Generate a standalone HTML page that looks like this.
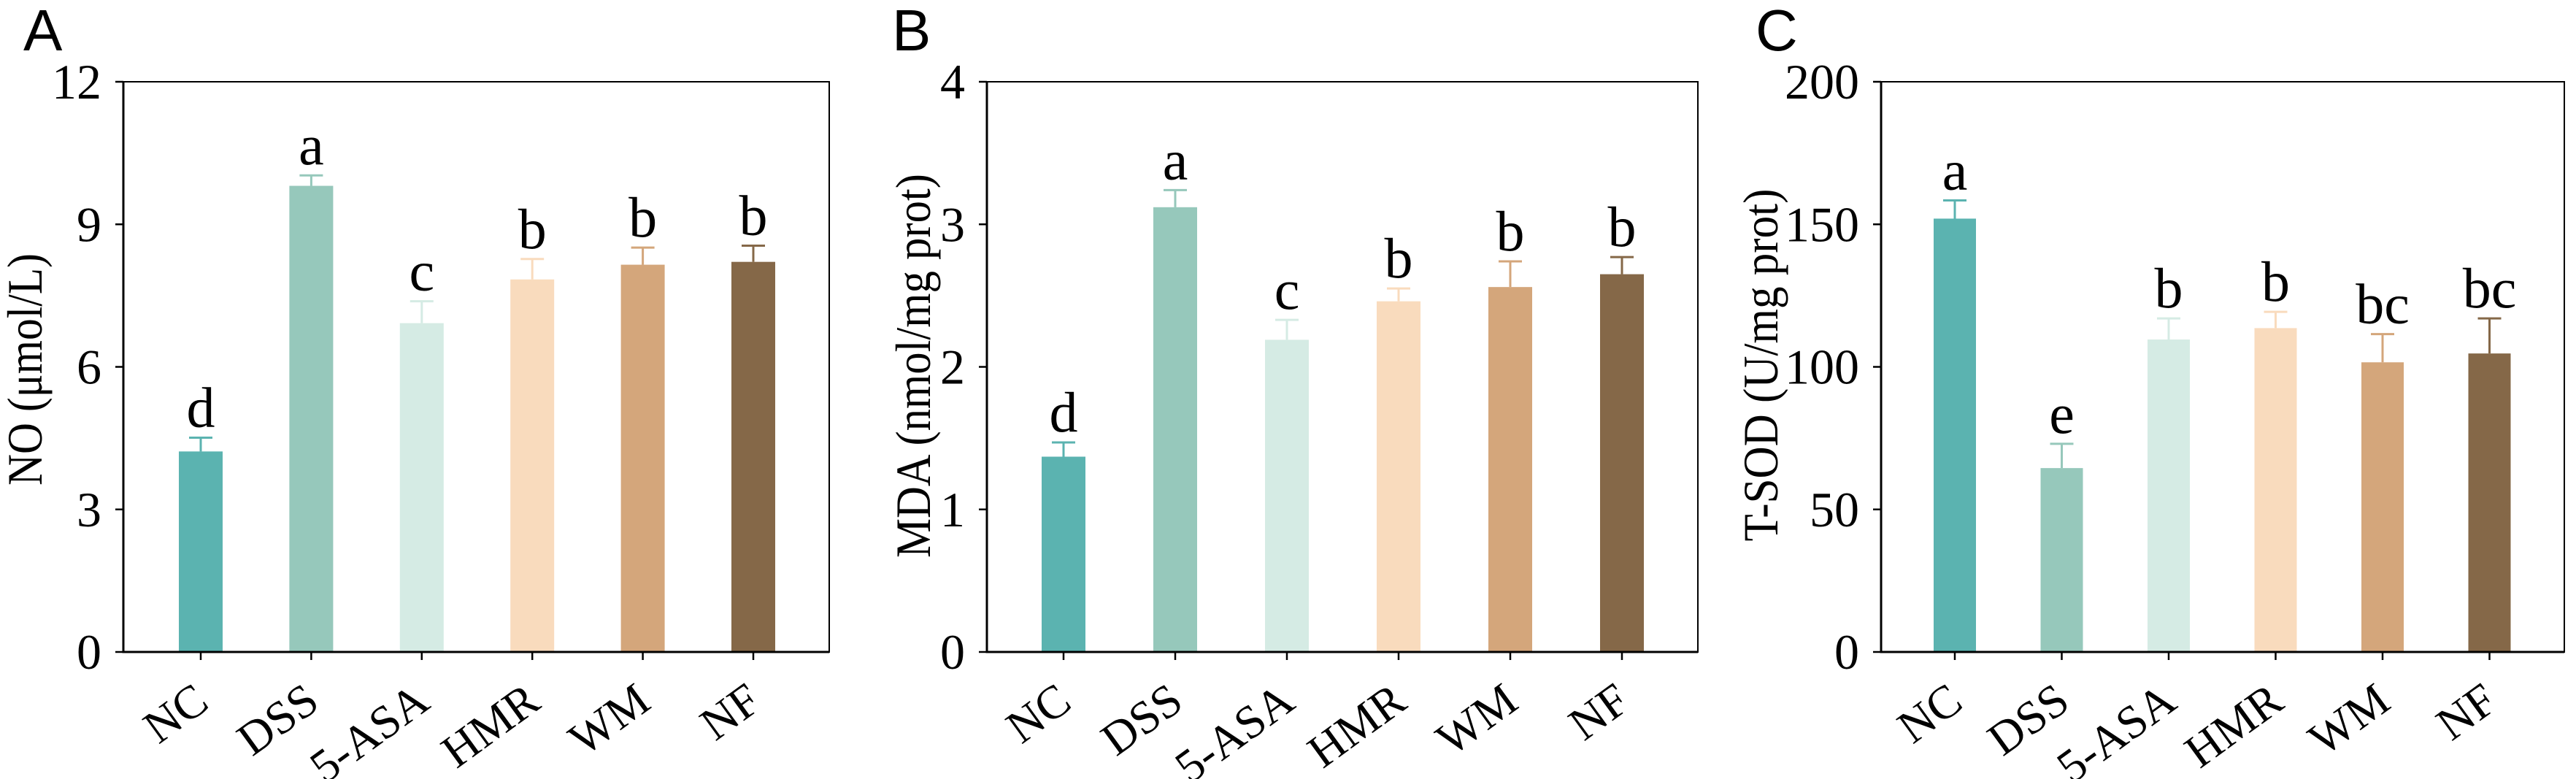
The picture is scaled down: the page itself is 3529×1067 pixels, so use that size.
<!DOCTYPE html>
<html><head><meta charset="utf-8">
<style>
html,body{margin:0;padding:0;background:#fff;}
svg{display:block;}
</style></head>
<body>
<svg id="fig" width="3529" height="1067" viewBox="0 0 3529 1067" xmlns="http://www.w3.org/2000/svg"></svg>
<script>
const categories = ["NC","DSS","5-ASA","HMR","WM","NF"];
const colors = ["#5bb3b0","#96c8bb","#d5ebe4","#f9dbbd","#d4a67b","#856848"];

const noValues = [4.22, 9.81, 6.92, 7.84, 8.15, 8.21];
const noErrors = [0.29, 0.22, 0.46, 0.43, 0.36, 0.34];
const noLetters = ["d","a","c","b","b","b"];
const noTicks = [0,3,6,9,12];

const mdaValues = [1.37, 3.12, 2.19, 2.46, 2.56, 2.65];
const mdaErrors = [0.10, 0.12, 0.14, 0.09, 0.18, 0.12];
const mdaLetters = ["d","a","c","b","b","b"];
const mdaTicks = [0,1,2,3,4];

const sodValues = [152, 64.5, 109.6, 113.6, 101.6, 104.7];
const sodErrors = [6.4, 8.5, 7.4, 5.7, 9.9, 12.3];
const sodLetters = ["a","e","b","b","bc","bc"];
const sodTicks = [0,50,100,150,200];

const NS = "http://www.w3.org/2000/svg";
const svg = document.getElementById("fig");
function mk(tag, attrs, parent){
  const e = document.createElementNS(NS, tag);
  for (const k in attrs) e.setAttribute(k, attrs[k]);
  (parent||svg).appendChild(e);
  return e;
}
const TOP = 112, BOT = 893;
const serif = '"Liberation Serif", "Times New Roman", serif';
const sans = '"Liberation Sans", Arial, sans-serif';

function panel(cfg){
  const g = mk("g", {});
  
  
  const maxV = cfg.ticks[cfg.ticks.length-1];
  const y = v => BOT - (v/maxV)*(BOT-TOP);
  const xc = i => cfg.firstX + i*cfg.step;

  const lab = mk("text", {x: cfg.labelX, y: 69, "font-family": sans, "font-size": 80, fill:"#000"}, g);
  lab.textContent = cfg.letter;
  
  

  categories.forEach((c,i)=>{
    const v = cfg.values[i], e = cfg.errors[i];
    const bw = cfg.bw;
    const r = mk("rect", {x: xc(i)-bw/2, y: y(v), width: bw, height: BOT - y(v), fill: colors[i]}, g);
    
    
    const eb = mk("path", {d: `M${xc(i)} ${y(v)} V${y(v+e)} M${xc(i)-16} ${y(v+e)} H${xc(i)+16}`, stroke: colors[i], "stroke-width": 3, fill:"none"}, g);
    
    
    const t = mk("text", {x: xc(i), y: y(v+e) - 15, "text-anchor":"middle", "font-family": serif, "font-size": 78, fill:"#000"}, g);
    t.textContent = cfg.letters[i];
    
    
    const tk = mk("line", {x1: xc(i), y1: BOT, x2: xc(i), y2: BOT+11, stroke:"#000", "stroke-width": 2.5}, g);
    
    
    const xl = mk("text", {transform: `translate(${xc(i)+14},968) rotate(-36)`, "text-anchor":"end", "font-family": serif, "font-size": 64, fill:"#000"}, g);
    xl.textContent = c;
    
    
  });

  const fr = mk("rect", {x: cfg.axisX, y: TOP, width: cfg.rightX - cfg.axisX, height: BOT-TOP, fill:"none", stroke:"#000", "stroke-width": 2}, g);
  
  
  const ax = mk("path", {d:`M${cfg.axisX} ${TOP} V${BOT} H${cfg.rightX}`, stroke:"#000", "stroke-width": 3, fill:"none"}, g);
  
  

  cfg.ticks.forEach(tv=>{
    const tl = mk("line", {x1: cfg.axisX-11, y1: y(tv), x2: cfg.axisX, y2: y(tv), stroke:"#000", "stroke-width": 2.5}, g);
    
    
    const tt = mk("text", {x: cfg.axisX-30, y: y(tv)+23, "text-anchor":"end", "font-family": serif, "font-size": 68, fill:"#000"}, g);
    tt.textContent = tv;
    
    
  });

  const yt = mk("text", {transform:`translate(${cfg.titleX},${cfg.titleY}) rotate(-90)`, "text-anchor":"middle", "font-family": serif, "font-size": 68, fill:"#000", textLength: cfg.titleLen, lengthAdjust:"spacingAndGlyphs"}, g);
  yt.textContent = cfg.title;
  
  
}

panel({id:"no", letter:"A", labelX:32, title:"NO (μmol/L)", titleX:57, titleY:506, titleLen:318,
  axisX:169, rightX:1136, firstX:275, step:151.4, bw:60, ticks:noTicks, values:noValues, errors:noErrors, letters:noLetters});
panel({id:"mda", letter:"B", labelX:1222, title:"MDA (nmol/mg prot)", titleX:1274, titleY:501, titleLen:526,
  axisX:1352, rightX:2326, firstX:1457, step:153, bw:60, ticks:mdaTicks, values:mdaValues, errors:mdaErrors, letters:mdaLetters});
panel({id:"sod", letter:"C", labelX:2405, title:"T-SOD (U/mg prot)", titleX:2435, titleY:500, titleLen:483,
  axisX:2577, rightX:3513, firstX:2678, step:146.5, bw:58, ticks:sodTicks, values:sodValues, errors:sodErrors, letters:sodLetters});
</script>
</body></html>
